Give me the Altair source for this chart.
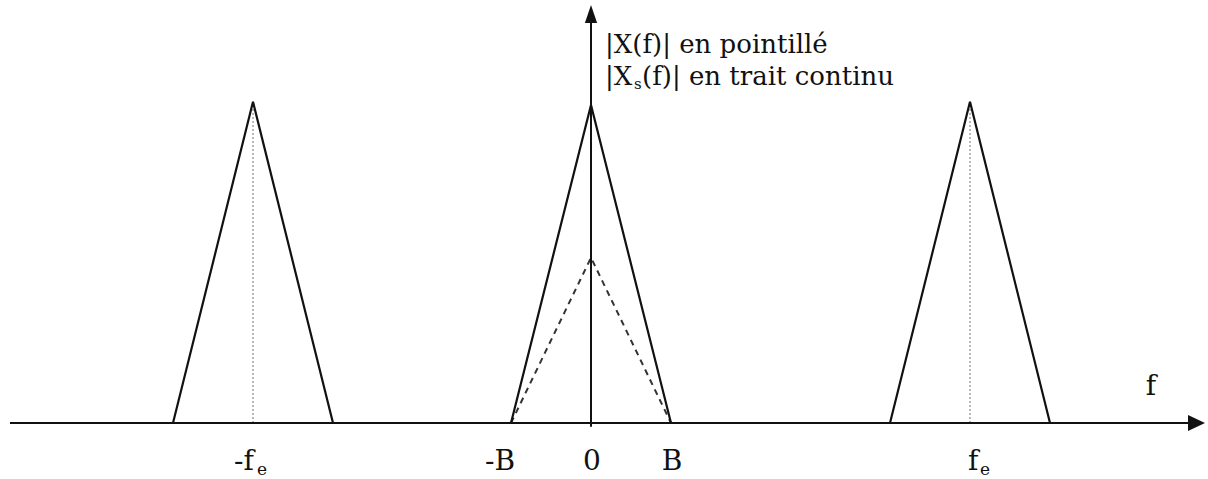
import altair as alt
import pandas as pd

# Spectrum of a sampled signal: baseband triangle |X(f)| and its replicas at ±fe
# Frequencies are in units of the bandwidth B, magnitudes relative to the |Xs(f)| peak.
replica_centers = [-4.225, 0.0, 4.7375]   # -fe, 0, fe
replica_peaks = [1.01, 1.0, 1.01]          # |Xs(f)| peak heights
half_width = 1.0                           # B
baseband_peak = 0.52                       # |X(f)| peak (dashed)

tick_values = [-4.225, -1.0, 0.0, 1.0, 4.7375]
tick_labels = ["-f", "-B", "0", "B", "f"]
tick_subscripts = ["e", "", "", "", "e"]

x_dom = [-7.3875, 7.7125]
y_dom = [-0.1761, 1.3302]
x_axis_span = [-7.2625, 7.55]
y_axis_span = [-0.012, 1.27]

INK = "#111111"
FONT = "DejaVu Serif"

xs = alt.Scale(domain=x_dom, nice=False, zero=False)
ys = alt.Scale(domain=y_dom, nice=False, zero=False)


def X(field="x"):
    return alt.X(f"{field}:Q", scale=xs, axis=None)


def Y(field="y"):
    return alt.Y(f"{field}:Q", scale=ys, axis=None)


# triangle outlines
tri_rows = []
for i, (c, h) in enumerate(zip(replica_centers, replica_peaks)):
    for k, (x, y) in enumerate([(c - half_width, 0.0), (c, h), (c + half_width, 0.0)]):
        tri_rows.append({"id": i, "k": k, "x": x, "y": y})
tri_df = pd.DataFrame(tri_rows)

dash_df = pd.DataFrame({
    "k": [0, 1, 2],
    "x": [-half_width, 0.0, half_width],
    "y": [0.0, baseband_peak, 0.0],
})

# dotted centre lines of the side replicas
cl_df = pd.DataFrame({
    "x": [replica_centers[0], replica_centers[2]],
    "y": [0.0, 0.0],
    "y2": [replica_peaks[0], replica_peaks[2]],
})

triangles = alt.Chart(tri_df).mark_line(color=INK, strokeWidth=2.2).encode(
    x=X(), y=Y(), detail="id:N", order="k:Q"
)
baseband = alt.Chart(dash_df).mark_line(
    color="#333333", strokeWidth=2, strokeDash=[6, 5]
).encode(x=X(), y=Y(), order="k:Q")
centre_lines = alt.Chart(cl_df).mark_rule(
    color="#8a8a8a", strokeWidth=1.2, strokeDash=[2, 2]
).encode(x=X(), y=Y(), y2="y2:Q")

# axes with arrow heads
xaxis = alt.Chart(pd.DataFrame({"x": [x_axis_span[0]], "x2": [x_axis_span[1]], "y": [0.0]})).mark_rule(
    color=INK, strokeWidth=2
).encode(x=X(), x2="x2:Q", y=Y())
yaxis = alt.Chart(pd.DataFrame({"x": [0.0], "y": [y_axis_span[0]], "y2": [y_axis_span[1]]})).mark_rule(
    color=INK, strokeWidth=2
).encode(x=X(), y=Y(), y2="y2:Q")
x_head = alt.Chart(pd.DataFrame({"x": [7.569], "y": [0.0]})).mark_point(
    shape="M 1 0 L -1 -0.95 L -1 0.95 Z", filled=True, color=INK, opacity=1, size=289
).encode(x=X(), y=Y())
y_head = alt.Chart(pd.DataFrame({"x": [0.0], "y": [1.2862]})).mark_point(
    shape="M 0 -1 L 0.68 1 L -0.68 1 Z", filled=True, color=INK, opacity=1, size=324
).encode(x=X(), y=Y())


def label(x, y, text, size=28, dx=0, dy=0, align="center"):
    return alt.Chart(pd.DataFrame({"x": [x], "y": [y], "t": [text]})).mark_text(
        font=FONT, fontSize=size, color=INK, align=align, baseline="alphabetic", dx=dx, dy=dy
    ).encode(x=X(), y=Y(), text="t:N")


label_y = -0.1478
tick_layers = [
    label(tick_values[0], label_y, tick_labels[0], dx=-19, align="left"),
    label(tick_values[0], label_y, tick_subscripts[0], size=17, dx=4, dy=5, align="left"),
    label(tick_values[1], label_y, tick_labels[1], dx=-11),
    label(tick_values[2], label_y, tick_labels[2], dx=1),
    label(tick_values[3], label_y, tick_labels[3], dx=1),
    label(tick_values[4], label_y, tick_labels[4], dx=-2, align="left"),
    label(tick_values[4], label_y, tick_subscripts[4], size=17, dx=10, dy=5, align="left"),
]

legend_x = 0.175
legend_layers = [
    label(legend_x, 1.1635, "|X(f)| en pointillé", size=26, align="left"),
    label(legend_x, 1.0629, "|X", size=26, align="left"),
    label(legend_x, 1.0629, "s", size=15, dx=29, dy=4, align="left"),
    label(legend_x, 1.0629, "(f)| en trait continu", size=26, dx=37, align="left"),
]

f_label = label(7.0, 0.088, "f")

chart = alt.layer(
    centre_lines, baseband, triangles, xaxis, yaxis, x_head, y_head,
    *tick_layers, *legend_layers, f_label
).properties(
    width=1208, height=479, padding=0, autosize="none", background="white"
).configure_view(stroke=None)

chart.save("out.html", embed_options={"renderer": "svg", "actions": False})
